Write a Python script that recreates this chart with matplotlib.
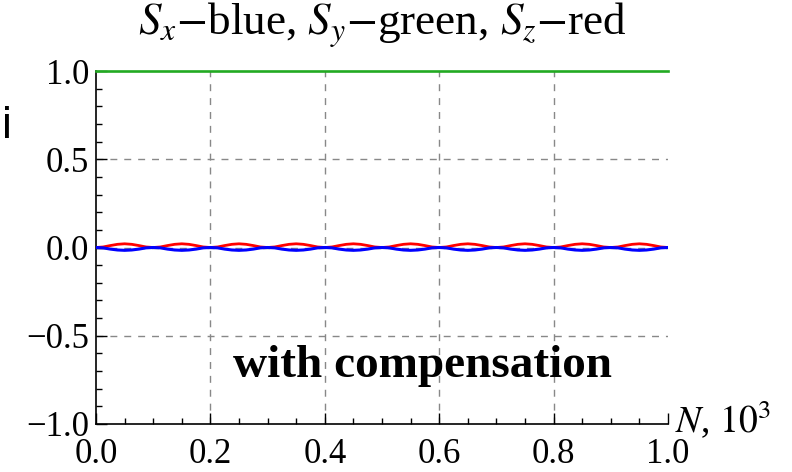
import matplotlib
matplotlib.use("Agg")
import matplotlib.pyplot as plt
from matplotlib.ticker import MultipleLocator

plt.rcParams['font.family'] = ['Liberation Serif', 'DejaVu Serif']
plt.rcParams['mathtext.fontset'] = 'stix'

# N in units of 10^3, sampled every 1/8 of one wiggle
N = [i * 0.0125 for i in range(81)]
# one wiggle, it repeats 10 times
sz_period = [0.0, 0.003, 0.011, 0.018, 0.021, 0.018, 0.011, 0.003]
sx_period = [0.0, -0.002, -0.009, -0.014, -0.016, -0.014, -0.009, -0.002]
Sz = sz_period * 10 + [0.0]
Sx = sx_period * 10 + [0.0]
Sy = [1.0] * 81

xticks = [0.0, 0.2, 0.4, 0.6, 0.8, 1.0]
yticks = [-1.0, -0.5, 0.0, 0.5, 1.0]

fig = plt.figure(figsize=(7.92, 4.72), dpi=100)
ax = fig.add_axes([96/792, 1-424/472, (668-96)/792, (424-71)/472])

ax.plot(N, Sy, color='#22aa22', lw=1.9, clip_on=False, zorder=3)
ax.plot(N, Sz, color='#ff0000', lw=2.0, zorder=3)
ax.plot(N, Sx, color='#0000ff', lw=2.2, zorder=4)

ax.set_xlim(0, 1)
ax.set_ylim(-1, 1)
ax.set_xticks(xticks)
ax.set_yticks(yticks)
ax.set_xticklabels(['%.1f' % v for v in xticks])
ax.set_yticklabels(['\u2212%.1f' % -v if v < 0 else '%.1f' % v for v in yticks])
ax.xaxis.set_minor_locator(MultipleLocator(0.05))
ax.yaxis.set_minor_locator(MultipleLocator(0.1))
ax.tick_params(which='both', direction='in', labelsize=25, width=1)
ax.tick_params(which='major', length=8)
ax.tick_params(which='minor', length=4.5)
ax.tick_params(axis='x', pad=10)
ax.tick_params(axis='y', pad=5)

for s in ['top', 'right']:
    ax.spines[s].set_visible(False)
ax.spines['left'].set_linewidth(1.2)
ax.spines['bottom'].set_linewidth(1.2)

for v in [0.2, 0.4, 0.6, 0.8]:
    ax.axvline(v, color='#888888', lw=1, ls=(0, (5, 5)), zorder=1)
for v in [-0.5, 0.0, 0.5]:
    ax.axhline(v, color='#888888', lw=1, ls=(0, (5, 5)), zorder=1)

fig.text(382/792, 1-35/472, r'$S_x$$-$blue, $S_y$$-$green, $S_z$$-$red',
         ha='center', va='baseline', fontsize=32.5)
fig.text(675/792, 1-433/472, r'$N$, $10^3$', ha='left', va='baseline', fontsize=27)
fig.text(422/792, 1-377/472, 'with compensation', ha='center', va='baseline',
         fontsize=34, fontweight='bold')
fig.text(2/792, 1-138/472, 'i', family='Liberation Sans', ha='left', va='baseline',
         fontsize=32)

fig.savefig('out.png', dpi=100)
